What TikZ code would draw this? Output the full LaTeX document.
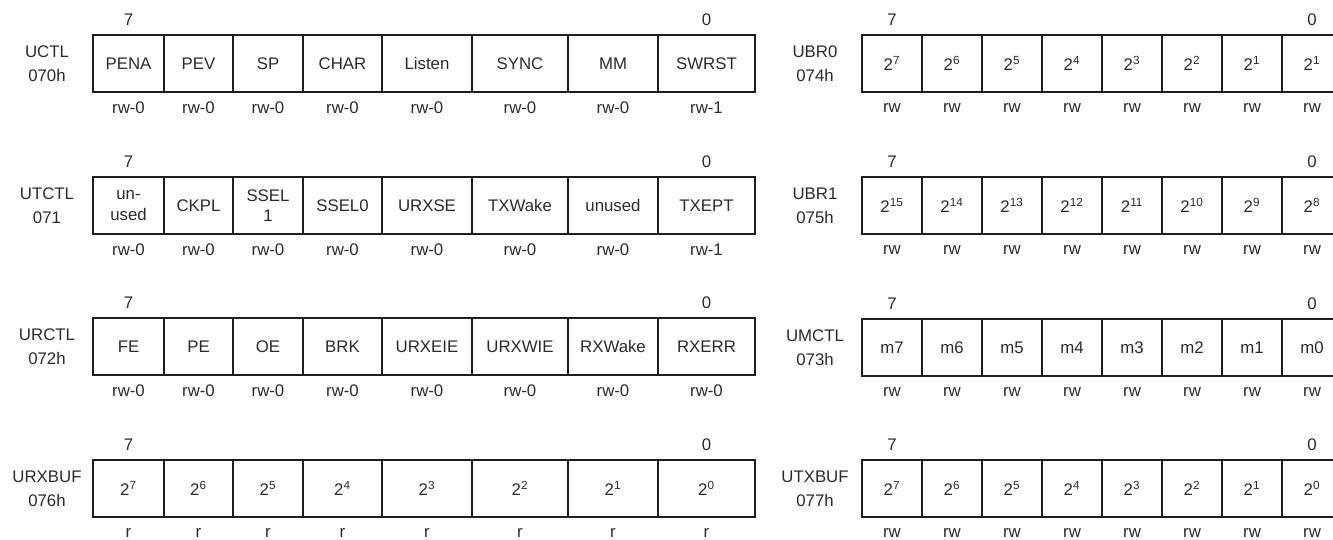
\documentclass[tikz,border=0pt]{standalone}
\usepackage{fontspec}
\setmainfont{Liberation Sans}
\definecolor{ink}{HTML}{1E1E1E}
\definecolor{txt}{HTML}{2A2A2A}
\tikzset{
  regcell/.style={draw=ink, line width=1.9pt, inner sep=0pt, outer sep=0pt,
    minimum height=57*0.75pt, align=center, text=txt,
    font=\fontsize{12.6}{15.5}\selectfont},
  regname/.style={align=center, inner sep=0pt, text=txt,
    font=\fontsize{12.6}{18}\selectfont},
  bitnum/.style={inner sep=0pt, text=txt, font=\fontsize{12.6}{15}\selectfont},
  access/.style={inner sep=0pt, text=txt, font=\fontsize{12.6}{15}\selectfont},
}
% #1 id, #2 top edge, #3 name, #4 address, #5 name x, #6 cells x0/x1/text/access
\newcommand\regdraw[6]{%
  \node[regname] (#1name) at (#5,#2+28.5) {#3\\#4};
  \foreach \xa/\xb/\txt/\acc [count=\i] in {#6} {
    \pgfmathsetmacro\cx{(\xa+\xb)/2}
    \pgfmathsetmacro\cw{(\xb-\xa)*0.75}
    \node[regcell, minimum width=\cw pt] (#1c\i) at (\cx,#2+28.5) {\txt};
    \node[access] (#1a\i) at (\cx,#2+72.5) {\acc};
  }
  \node[bitnum] (#1hi) at ([yshift=11.25pt]#1c1.north) {7};
  \node[bitnum] (#1lo) at ([yshift=11.25pt]#1c8.north) {0};
}
\newcommand\sq[1]{2\textsuperscript{#1}}
\begin{document}
\begin{tikzpicture}[x=0.75pt,y=-0.75pt]
\useasboundingbox (0,0) rectangle (1333,539);
% left column of registers
\regdraw{uctl}{35}{UCTL}{070h}{47}{93/164/PENA/rw-0,164/233/PEV/rw-0,233/303/SP/rw-0,303/382/CHAR/rw-0,382/472/Listen/rw-0,472/568/SYNC/rw-0,568/658/MM/rw-0,658/755/SWRST/rw-1}
\regdraw{utctl}{177}{UTCTL}{071}{47}{93/164/un-\\used/rw-0,164/233/CKPL/rw-0,233/303/SSEL\\1/rw-0,303/382/SSEL0/rw-0,382/472/URXSE/rw-0,472/568/TXWake/rw-0,568/658/unused/rw-0,658/755/TXEPT/rw-1}
\regdraw{urctl}{318}{URCTL}{072h}{47}{93/164/FE/rw-0,164/233/PE/rw-0,233/303/OE/rw-0,303/382/BRK/rw-0,382/472/URXEIE/rw-0,472/568/URXWIE/rw-0,568/658/RXWake/rw-0,658/755/RXERR/rw-0}
\regdraw{urxbuf}{460}{URXBUF}{076h}{47}{93/164/\sq{7}/r,164/233/\sq{6}/r,233/303/\sq{5}/r,303/382/\sq{4}/r,382/472/\sq{3}/r,472/568/\sq{2}/r,568/658/\sq{1}/r,658/755/\sq{0}/r}
% right column of registers
\regdraw{ubr0}{35}{UBR0}{074h}{815}{862/922/\sq{7}/rw,922/982/\sq{6}/rw,982/1042/\sq{5}/rw,1042/1102/\sq{4}/rw,1102/1162/\sq{3}/rw,1162/1222/\sq{2}/rw,1222/1282/\sq{1}/rw,1282/1342/\sq{1}/rw}
\regdraw{ubr1}{177}{UBR1}{075h}{815}{862/922/\sq{15}/rw,922/982/\sq{14}/rw,982/1042/\sq{13}/rw,1042/1102/\sq{12}/rw,1102/1162/\sq{11}/rw,1162/1222/\sq{10}/rw,1222/1282/\sq{9}/rw,1282/1342/\sq{8}/rw}
\regdraw{umctl}{319}{UMCTL}{073h}{815}{862/922/m7/rw,922/982/m6/rw,982/1042/m5/rw,1042/1102/m4/rw,1102/1162/m3/rw,1162/1222/m2/rw,1222/1282/m1/rw,1282/1342/m0/rw}
\regdraw{utxbuf}{460}{UTXBUF}{077h}{815}{862/922/\sq{7}/rw,922/982/\sq{6}/rw,982/1042/\sq{5}/rw,1042/1102/\sq{4}/rw,1102/1162/\sq{3}/rw,1162/1222/\sq{2}/rw,1222/1282/\sq{1}/rw,1282/1342/\sq{0}/rw}
\end{tikzpicture}
\end{document}
